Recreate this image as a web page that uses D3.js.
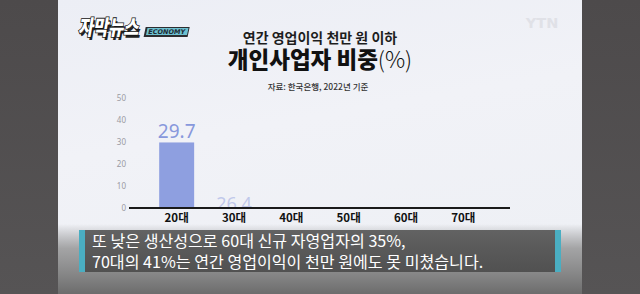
<!DOCTYPE html>
<html><head><meta charset="utf-8">
<script src="https://cdn.jsdelivr.net/npm/d3@7"></script>
<style>html,body{margin:0;padding:0;background:#4a4748;overflow:hidden}svg{display:block}</style>
</head><body>
<svg id="c" width="640" height="294"></svg>
<script>
const categories = ["20대","30대","40대","50대","60대","70대"];
const values = [29.7, 26.4, null, null, null, null];
const shownHeight = [1, 0, 0, 0, 0, 0]; // animation state in the frame: 20대 fully drawn, 30대 just starting
const yTicks = [0,10,20,30,40,50];
const titleLine1 = "연간 영업이익 천만 원 이하";
const titleLine2 = "개인사업자 비중";
const titleUnit = "(%)";
const sourceText = "자료: 한국은행, 2022년 기준";
const captionLines = ["또 낮은 생산성으로 60대 신규 자영업자의 35%,", "70대의 41%는 연간 영업이익이 천만 원에도 못 미쳤습니다."];

const svg = d3.select("#c");
const KR = "'Noto Sans CJK KR','Noto Sans',sans-serif";
const defs = svg.append("defs");

// backgrounds
const sideG = defs.append("linearGradient").attr("id","side").attr("x1",0).attr("y1",0).attr("x2",0).attr("y2",1);
sideG.append("stop").attr("offset",0).attr("stop-color","#4d4a4b");
sideG.append("stop").attr("offset",1).attr("stop-color","#565455");
svg.append("rect").attr("width",640).attr("height",294).attr("fill","url(#side)");

const panelG = defs.append("linearGradient").attr("id","panel").attr("x1",0).attr("y1",0).attr("x2",0.3).attr("y2",1);
panelG.append("stop").attr("offset",0).attr("stop-color","#eceef5");
panelG.append("stop").attr("offset",0.5).attr("stop-color","#f1f2f7");
panelG.append("stop").attr("offset",1).attr("stop-color","#eef0f5");
svg.append("rect").attr("x",58).attr("y",0).attr("width",524).attr("height",294).attr("fill","url(#panel)");

const fadeG = defs.append("linearGradient").attr("id","fade").attr("x1",0).attr("y1",0).attr("x2",0).attr("y2",1);
fadeG.append("stop").attr("offset",0).attr("stop-color","#7a7a7a").attr("stop-opacity",0);
fadeG.append("stop").attr("offset",0.35).attr("stop-color","#8a8a8a").attr("stop-opacity",0.75);
fadeG.append("stop").attr("offset",1).attr("stop-color","#6c6c6c").attr("stop-opacity",1);
svg.append("rect").attr("x",58).attr("y",224).attr("width",524).attr("height",70).attr("fill","url(#fade)");

// scales
const x = d3.scaleBand().domain(categories).range([148, 492]).paddingInner(0.39).paddingOuter(0.195);
const y = d3.scaleLinear().domain([0,50]).range([207.5, 98]);

// y tick labels
const yAxis = d3.axisLeft(y).tickValues(yTicks).tickSize(0).tickPadding(0);
const yg = svg.append("g").attr("transform","translate(126,0)").call(yAxis);
yg.select(".domain").remove();
yg.selectAll("text").attr("fill","#9a9aa2").attr("font-size",8).attr("font-family","'Noto Sans',sans-serif");

// bars
const data = categories.map((c,i)=>({c, v: values[i], k: shownHeight[i]}));
const clip = defs.append("clipPath").attr("id","plot");
clip.append("rect").attr("x",100).attr("y",60).attr("width",440).attr("height",y(0)-60);

const plot = svg.append("g").attr("clip-path","url(#plot)");
plot.selectAll("rect.bar").data(data.filter(d=>d.v!=null && d.k>0)).join("rect")
  .attr("class","bar")
  .attr("x",d=>x(d.c)).attr("width",x.bandwidth())
  .attr("y",d=>y(d.v*d.k)).attr("height",d=>y(0)-y(d.v*d.k))
  .attr("fill","#8e9fe0");

// value labels
plot.selectAll("text.val").data(data.filter(d=>d.v!=null)).join("text")
  .attr("class","val")
  .attr("x",d=>x(d.c)+x.bandwidth()/2)
  .attr("y",d=> d.k>0 ? y(d.v*d.k)-4.5 : y(0)+2.5)
  .attr("text-anchor","middle")
  .attr("font-family","'Noto Sans',sans-serif")
  .attr("font-size",d=>d.k>0?19:18)
  .attr("fill","#8898dc")
  .attr("opacity",d=>d.k>0?1:0.45)
  .text(d=>d.v.toFixed(1));

// x axis
const xAxis = d3.axisBottom(x).tickSize(0).tickPadding(6);
const xg = svg.append("g").attr("transform",`translate(0,${y(0)})`).call(xAxis);
xg.select(".domain").remove();
xg.selectAll("text").attr("fill","#111").attr("font-size",11.5).attr("font-weight","bold").attr("font-family",KR).attr("dy","0.75em");
svg.append("line").attr("x1",129).attr("x2",510).attr("y1",y(0)+0.5).attr("y2",y(0)+0.5).attr("stroke","#1a1a1a").attr("stroke-width",1.8);

// titles
svg.append("text").attr("x",320).attr("y",43).attr("text-anchor","middle").attr("font-family",KR).attr("font-weight",700).attr("font-size",14).attr("fill","#1e1e1e").text(titleLine1);
const t2 = svg.append("text").attr("x",320).attr("y",67.5).attr("text-anchor","middle").attr("font-family",KR).attr("font-size",22.5).attr("fill","#111");
t2.append("tspan").attr("font-weight",900).text(titleLine2);
t2.append("tspan").attr("font-weight",300).text(titleUnit);
svg.append("text").attr("x",318).attr("y",90).attr("text-anchor","middle").attr("font-family",KR).attr("font-weight",500).attr("font-size",8.5).attr("fill","#333").text(sourceText);

// YTN watermark
svg.append("text").attr("x",542).attr("y",28).attr("text-anchor","middle").attr("font-family","'DejaVu Sans',sans-serif").attr("font-weight","bold").attr("font-size",14.5).attr("fill","#e0e1e7").text("YTN");

// logo
const logo = svg.append("g").attr("transform","translate(78,35)");
logo.append("rect").attr("x",66).attr("y",-8).attr("width",44).attr("height",10).attr("fill","#2d2d30").attr("transform","skewX(-12)");
logo.append("rect").attr("x",68).attr("y",-7).attr("width",41).attr("height",7).attr("fill","#6cc0d0").attr("transform","skewX(-12)");
logo.append("text").attr("x",88).attr("y",-1.2).attr("text-anchor","middle").attr("font-family","'DejaVu Sans',sans-serif").attr("font-weight","bold").attr("font-size",6.5).attr("fill","#1e2a33").attr("transform","skewX(-12)").text("ECONOMY");
logo.append("text").attr("x",2.5).attr("y",2.5).attr("font-family",KR).attr("font-weight",900).attr("font-size",20).attr("fill","#222").attr("transform","skewX(-10) scale(0.82,1.05)").text("자막뉴스");
logo.append("text").attr("x",0).attr("y",0).attr("font-family",KR).attr("font-weight",900).attr("font-size",20).attr("fill","#fff").attr("stroke","#111").attr("stroke-width",1.6).attr("paint-order","stroke").attr("transform","skewX(-10) scale(0.82,1.05)").text("자막뉴스");

// caption band
const capG = defs.append("linearGradient").attr("id","cap").attr("x1",0).attr("y1",0).attr("x2",0).attr("y2",1);
capG.append("stop").attr("offset",0).attr("stop-color","#5c5c5c");
capG.append("stop").attr("offset",1).attr("stop-color","#4e4e4e");
svg.append("rect").attr("x",85).attr("y",230).attr("width",470).attr("height",42).attr("fill","url(#cap)").attr("opacity",0.95);
svg.append("rect").attr("x",79).attr("y",230).attr("width",6).attr("height",42).attr("fill","#4aaec2");
svg.append("rect").attr("x",555).attr("y",230).attr("width",6).attr("height",42).attr("fill","#4aaec2");
svg.selectAll("text.cap").data(captionLines).join("text").attr("class","cap")
  .attr("x",92).attr("y",(d,i)=>247+i*20.5)
  .attr("font-family",KR).attr("font-size",16.1).attr("fill","#fff")
  .text(d=>d);
</script>
</body></html>
